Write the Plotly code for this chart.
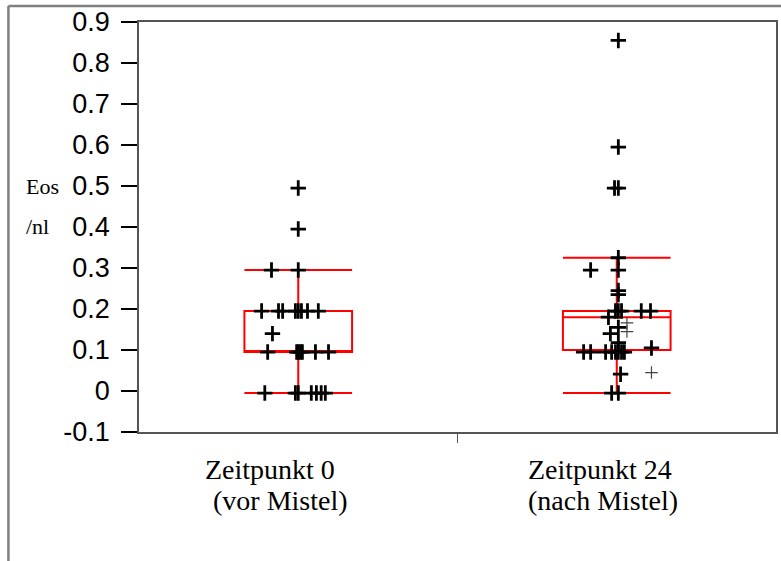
import plotly.graph_objects as go

# Eosinophil counts (/nl) before and after mistletoe treatment
groups = ["Zeitpunkt 0", "Zeitpunkt 24"]
group_sub = ["(vor Mistel)", "(nach Mistel)"]

# Box statistics per time point
lowerfence = [-0.005, -0.005]
q1 = [0.095, 0.10]
median = [0.095, 0.18]
q3 = [0.195, 0.195]
upperfence = [0.295, 0.325]

# Individual values at time point 0 with their horizontal spread
t0_values = [0.495, 0.395, 0.295, 0.295,
             0.195, 0.195, 0.195, 0.195, 0.195, 0.195, 0.195, 0.195,
             0.14,
             0.095, 0.095, 0.095, 0.095, 0.095, 0.095, 0.095,
             -0.005, -0.005, -0.005, -0.005, -0.005, -0.005, -0.005]
t0_spread = [0.0, 0.0, -0.084, 0.0,
             -0.115, -0.062, -0.049, -0.009, 0.0, 0.010, 0.029, 0.063,
             -0.081,
             -0.096, -0.005, 0.0, 0.007, 0.013, 0.054, 0.095,
             -0.105, -0.009, 0.0, 0.041, 0.057, 0.072, 0.085]

# Individual values at time point 24
t24_values = [0.855, 0.595, 0.495, 0.495, 0.325, 0.295, 0.295, 0.245, 0.235,
              0.195, 0.195, 0.195, 0.195, 0.195,
              0.18, 0.155, 0.14, 0.118, 0.105,
              0.095, 0.095, 0.095, 0.095, 0.095, 0.095, 0.095, 0.095,
              0.041, -0.005, -0.005]
t24_spread = [0.005, 0.005, -0.007, 0.005, 0.005, -0.082, 0.005, 0.005, 0.005,
              -0.004, 0.005, 0.015, 0.077, 0.106,
              -0.026, 0.005, -0.020, 0.005, 0.109,
              -0.104, -0.082, -0.035, -0.016, -0.004, 0.005, 0.015, 0.024,
              0.012, -0.016, 0.005]

# Lighter-drawn values at time point 24
t24_light_values = [0.166, 0.145, 0.045]
t24_light_spread = [0.032, 0.032, 0.109]

y_ticks = [-0.1, 0, 0.1, 0.2, 0.3, 0.4, 0.5, 0.6, 0.7, 0.8, 0.9]
y_ticktext = ["-0.1", "0", "0.1", "0.2", "0.3", "0.4", "0.5", "0.6", "0.7", "0.8", "0.9"]

fig = go.Figure()

for i in range(len(groups)):
    fig.add_trace(go.Box(
        x=[i], q1=[q1[i]], median=[median[i]], q3=[q3[i]],
        lowerfence=[lowerfence[i]], upperfence=[upperfence[i]],
        width=0.338, whiskerwidth=1,
        line=dict(color="#ff0000", width=2),
        fillcolor="rgba(0,0,0,0)",
        boxpoints=False, hoverinfo="skip", showlegend=False,
    ))

fig.add_trace(go.Scatter(
    x=[0 + d for d in t0_spread], y=t0_values, mode="markers",
    marker=dict(symbol="cross-thin", size=11, line=dict(color="black", width=2.8)),
    showlegend=False,
))
fig.add_trace(go.Scatter(
    x=[1 + d for d in t24_spread], y=t24_values, mode="markers",
    marker=dict(symbol="cross-thin", size=11, line=dict(color="black", width=2.8)),
    showlegend=False,
))
fig.add_trace(go.Scatter(
    x=[1 + d for d in t24_light_spread], y=t24_light_values, mode="markers",
    marker=dict(symbol="cross-thin", size=9, line=dict(color="#444444", width=1.2)),
    showlegend=False,
))

annotations = []
# Category labels below the axis, two lines each
label_left = [0.102, 0.609]
sub_left = [0.114, 0.609]
for i in range(len(groups)):
    annotations.append(dict(
        text=groups[i], xref="paper", yref="paper", x=label_left[i], y=-0.05,
        xanchor="left", yanchor="top", showarrow=False, borderpad=0,
        font=dict(family="Liberation Serif", size=28, color="black"),
    ))
    annotations.append(dict(
        text=group_sub[i], xref="paper", yref="paper", x=sub_left[i], y=-0.128,
        xanchor="left", yanchor="top", showarrow=False, borderpad=0,
        font=dict(family="Liberation Serif", size=28, color="black"),
    ))

# Axis title in two lines
annotations.append(dict(
    text="Eos", xref="paper", yref="paper", x=-0.181, y=0.599,
    xanchor="left", yanchor="middle", showarrow=False,
    font=dict(family="Liberation Serif", size=22, color="black"),
))
annotations.append(dict(
    text="/nl", xref="paper", yref="paper", x=-0.181, y=0.502,
    xanchor="left", yanchor="middle", showarrow=False,
    font=dict(family="Liberation Serif", size=22, color="black"),
))

# Outer page frame (left and top edges)
shapes = [
    dict(type="line", xref="paper", yref="paper", x0=-0.205, x1=-0.205, y0=1.039, y1=-0.33,
         line=dict(color="#7f7f7f", width=2.5)),
    dict(type="line", xref="paper", yref="paper", x0=-0.205, x1=1.01, y0=1.039, y1=1.039,
         line=dict(color="#7f7f7f", width=2.5)),
]

fig.update_layout(
    width=781, height=561,
    margin=dict(l=139, r=3, t=22, b=129),
    plot_bgcolor="white", paper_bgcolor="white",
    annotations=annotations, shapes=shapes,
    xaxis=dict(
        range=[-0.5, 1.5], tickvals=[0, 1], ticktext=["", ""], ticks="",
        showgrid=False, zeroline=False,
        showline=True, linecolor="#555555", linewidth=1.5, mirror=True,
        minor=dict(tickvals=[0.5], ticks="outside", ticklen=9, tickwidth=1, tickcolor="#555555"),
    ),
    yaxis=dict(
        range=[-0.1, 0.9], tickvals=y_ticks, ticktext=y_ticktext,
        ticks="outside", ticklen=16, tickwidth=2, tickcolor="black",
        tickfont=dict(family="Liberation Sans", size=27, color="black"),
        ticklabelstandoff=6,
        showgrid=False, zeroline=False,
        showline=True, linecolor="#555555", linewidth=1.5, mirror=True,
    ),
)

fig.write_html("out.html")
